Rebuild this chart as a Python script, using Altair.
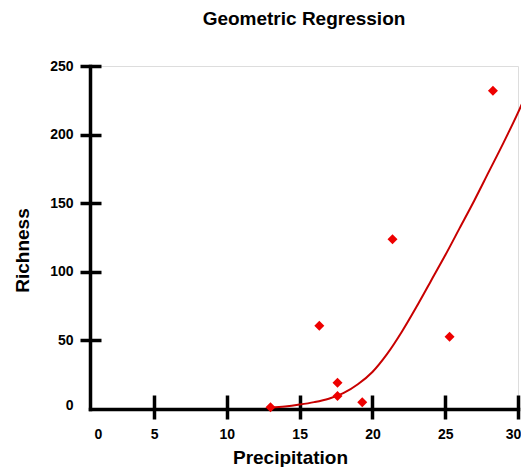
import altair as alt
import pandas as pd

precip = [13.0, 16.35, 17.6, 17.6, 19.3, 21.38, 25.3, 28.28]
richness = [1.2, 60.7, 19.2, 9.5, 5.0, 123.7, 52.7, 232.0]

# Fitted geometric regression curve
fit_x = [13, 14, 15, 16, 17, 18, 19, 20, 21, 22, 23, 24, 25, 26, 27, 28, 29, 30, 30.7]
fit_y = [1, 1.8, 3.2, 5, 7.5, 11.5, 18, 27, 40, 56, 74, 93, 112, 132, 152, 173, 194, 216, 233]

x_ticks = [0.6, 5, 10, 15, 20, 25, 30]
x_ticks_inner = [5, 10, 15, 20, 25, 30]
y_ticks = [0, 50, 100, 150, 200, 250]
y_ticks_inner = [50, 100, 150, 200, 250]

pts = pd.DataFrame({"x": precip, "y": richness})
fit = pd.DataFrame({"x": fit_x, "y": fit_y})

W, H = 428, 343
FONT = "Liberation Sans"

x_scale = alt.Scale(domain=[0.6, 30], nice=False, zero=False)
y_scale = alt.Scale(domain=[0, 250], nice=False, zero=False)

common = dict(
    grid=False,
    tickColor="black",
    tickWidth=3.5,
    domainColor="black",
    domainWidth=3.5,
    labelFont=FONT,
    labelFontSize=14,
    labelFontWeight="bold",
    labelColor="black",
    titleFont=FONT,
    titleFontWeight="bold",
    titleColor="black",
    labelFlush=False,
    labelOverlap=False,
)

x_main = alt.Axis(
    values=x_ticks,
    labelExpr="datum.value < 1 ? '0' : datum.label",
    tickSize=10,
    labelPadding=8,
    tickOpacity={"condition": {"test": "datum.value < 1", "value": 0}, "value": 1},
    labelOffset={"condition": [{"test": "datum.value < 1", "value": 8},
                               {"test": "datum.value > 29", "value": -5}],
                 "value": 0},
    title="Precipitation",
    titleFontSize=19,
    titleX=200,
    titleY=54,
    titleAlign="center",
    titleBaseline="alphabetic",
    domainCap="square",
    **common,
)
y_main = alt.Axis(
    values=y_ticks,
    tickSize=10,
    labelPadding=7,
    tickOpacity={"condition": {"test": "datum.value < 1", "value": 0}, "value": 1},
    labelOffset={"condition": {"test": "datum.value < 1", "value": -4}, "value": 0},
    title="Richness",
    titleFontSize=19,
    titleAngle=270,
    titleX=-62,
    titleY=184,
    titleAlign="center",
    titleBaseline="alphabetic",
    domainCap="square",
    **common,
)
x_inner = alt.Axis(
    orient="top", offset=-H, values=x_ticks_inner, tickSize=14, labels=False,
    domain=False, title=None, grid=False, tickColor="black", tickWidth=3.5,
)
y_inner = alt.Axis(
    orient="right", offset=-W, values=y_ticks_inner, tickSize=11, labels=False,
    domain=False, title=None, grid=False, tickColor="black", tickWidth=3.5,
)

curve = alt.Chart(fit).mark_line(
    color="#c80000", strokeWidth=2, interpolate="monotone", clip=False
).encode(
    x=alt.X("x:Q", scale=x_scale, axis=x_main),
    y=alt.Y("y:Q", scale=y_scale, axis=y_main),
)

points = alt.Chart(pts).mark_point(
    shape="diamond", filled=True, size=100, color="#ee0000", opacity=1
).encode(
    x=alt.X("x:Q", scale=x_scale, axis=x_inner),
    y=alt.Y("y:Q", scale=y_scale, axis=y_inner),
)

chart = alt.layer(curve, points).resolve_axis(
    x="independent", y="independent"
).properties(
    width=W,
    height=H,
    padding={"left": 82, "top": 58, "right": 3, "bottom": 58},
    autosize=alt.AutoSizeParams(type="none"),
    title=alt.TitleParams(
        "Geometric Regression",
        font=FONT,
        fontSize=19,
        fontWeight="bold",
        color="black",
        anchor="middle",
        baseline="alphabetic",
        offset=15,
    ),
).configure_view(stroke=None).configure(background="white")

chart.save("out.html", embed_options={"renderer": "svg", "actions": False})
